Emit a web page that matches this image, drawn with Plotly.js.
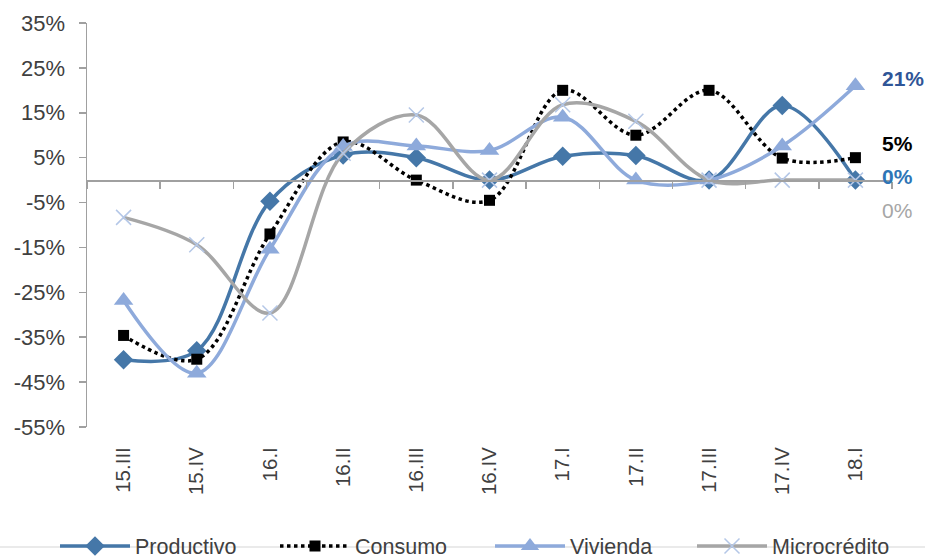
<!DOCTYPE html>
<html><head><meta charset="utf-8">
<script src="https://cdn.plot.ly/plotly-3.0.1.min.js"></script>
<style>html,body{margin:0;padding:0;background:#fff;}#chart{width:925px;height:559px;}</style>
</head><body><div id="chart"></div>
<script>
const quarters = ["15.III","15.IV","16.I","16.II","16.III","16.IV","17.I","17.II","17.III","17.IV","18.I"];
const productivo = [-40, -38, -4.7, 5.6, 5, 0, 5.3, 5.5, 0, 16.6, 0];
const consumo = [-34.6, -39.9, -12, 8.5, 0, -4.5, 20, 10, 20, 4.9, 5];
const vivienda = [-26.8, -43, -15.4, 7.5, 7.6, 6.6, 14, 0, 0, 7.6, 21];
const microcredito = [-8.3, -14.4, -29.6, 6, 14.5, 0, 16.8, 13.1, 0, 0, 0];
const yTickVals = [35, 25, 15, 5, -5, -15, -25, -35, -45, -55];
const yTickText = ["35%", "25%", "15%", "5%", "-5%", "-15%", "-25%", "-35%", "-45%", "-55%"];

const FONT = "Liberation Sans, Arial, sans-serif";
const cProd = "#4577A8", cViv = "#8EAADB", cMic = "#A6A6A6", cMicMk = "#B4C7E7";

const traces = [
  {x: quarters, y: productivo, name: "Productivo", type: "scatter", mode: "lines+markers", legend: "legend",
   line: {color: cProd, width: 3.5, shape: "spline", smoothing: 1},
   marker: {symbol: "diamond", size: 15, color: cProd}},
  {x: quarters, y: consumo, name: "Consumo", type: "scatter", mode: "lines+markers", legend: "legend2",
   line: {color: "#000000", width: 3.5, dash: "dot", shape: "spline", smoothing: 1},
   marker: {symbol: "square", size: 11, color: "#000000"}},
  {x: quarters, y: vivienda, name: "Vivienda", type: "scatter", mode: "lines+markers", legend: "legend3",
   line: {color: cViv, width: 3.5, shape: "spline", smoothing: 1},
   marker: {symbol: "triangle-up", size: 17, color: cViv}},
  {x: quarters, y: microcredito, name: "Microcrédito", type: "scatter", mode: "lines+markers", legend: "legend4",
   line: {color: cMic, width: 3.5, shape: "spline", smoothing: 1},
   marker: {symbol: "x-thin", size: 15, color: cMicMk, line: {color: cMicMk, width: 1.5}}},
  {x: quarters, y: productivo, xaxis: "x2", type: "scatter", mode: "lines", opacity: 0,
   showlegend: false, hoverinfo: "skip", line: {width: 0}}
];

const last = a => Math.round(a[a.length - 1]) + "%";
const annX = (880 - 87) / 805;
const annotations = [
  {text: "<b>" + last(vivienda) + "</b>", y: 22.7, color: "#2F5597"},
  {text: "<b>" + last(consumo) + "</b>", y: 8.2, color: "#000000"},
  {text: "<b>" + last(productivo) + "</b>", y: 0.7, color: "#2E75B6"},
  {text: last(microcredito), y: -6.7, color: "#A6A6A6"}
].map(a => ({xref: "paper", yref: "y", x: annX, y: a.y, xanchor: "left", yanchor: "middle",
  text: a.text, showarrow: false, font: {family: FONT, size: 21, color: a.color}}));

const mkLegend = left => ({orientation: "h", xref: "container", yref: "container",
  x: (left - 3) / 925, xanchor: "left", y: 1 - 546 / 559, yanchor: "middle",
  bgcolor: "rgba(0,0,0,0)", font: {family: FONT, size: 21.5, color: "#404040"}, itemwidth: 70});

const layout = {
  width: 925, height: 559,
  margin: {l: 87, r: 33, t: 23, b: 132, autoexpand: false},
  paper_bgcolor: "#fff", plot_bgcolor: "#fff",
  font: {family: FONT, color: "#404040"},
  showlegend: true,
  legend: mkLegend(58), legend2: mkLegend(278), legend3: mkLegend(493), legend4: mkLegend(695),
  xaxis: {type: "category", categoryarray: quarters, range: [-0.5, 10.5],
    showgrid: false, zeroline: false, showline: false,
    ticks: "outside", ticklen: 11, tickcolor: "rgba(0,0,0,0)", tickangle: -90,
    tickfont: {family: FONT, size: 20.5, color: "#404040"}},
  xaxis2: {type: "category", categoryarray: quarters, range: [-0.5, 10.5], overlaying: "x",
    anchor: "free", position: 55 / 90, side: "bottom",
    showgrid: false, zeroline: false, showline: true, linecolor: "#A0A0A0", linewidth: 1.5,
    ticks: "outside", tickson: "boundaries", ticklen: 7, tickcolor: "#A0A0A0", tickwidth: 1.5,
    showticklabels: false},
  yaxis: {range: [-55, 35], tickvals: yTickVals, ticktext: yTickText,
    showgrid: false, zeroline: false, showline: true, linecolor: "#A0A0A0", linewidth: 1.5,
    ticks: "outside", ticklen: 7, tickcolor: "#A0A0A0", tickwidth: 1.5, ticklabelstandoff: 9,
    tickfont: {family: FONT, size: 22, color: "#404040"}},
  annotations: annotations,
  shapes: [{type: "line", xref: "paper", yref: "paper", x0: -87 / 805, x1: 838 / 805,
    y0: -(547 - 427) / 404, y1: -(547 - 427) / 404, line: {color: "#E3E3E3", width: 1.5}, layer: "below"}]
};

Plotly.newPlot("chart", traces, layout, {displayModeBar: false, staticPlot: true});
</script></body></html>
